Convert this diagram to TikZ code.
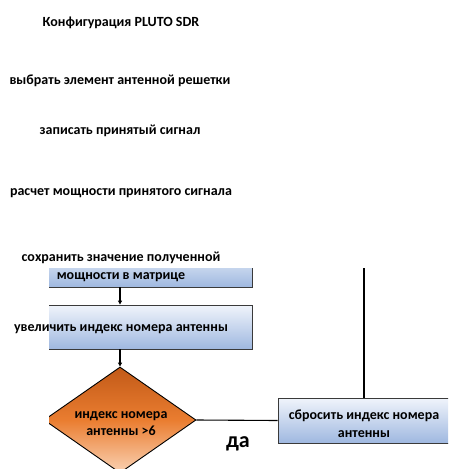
\documentclass[tikz,border=0pt]{standalone}
\usepackage{fontspec}
\setmainfont{Carlito}
\usetikzlibrary{shapes.geometric,arrows.meta}
\definecolor{boxtop}{HTML}{F0F4FB}
\definecolor{boxbot}{HTML}{9FB8E0}
\definecolor{boxline}{HTML}{3A3A3A}
\definecolor{dtop}{HTML}{C25A18}
\definecolor{dmid}{HTML}{EA7D30}
\definecolor{dbot}{HTML}{FAD2B4}
\tikzset{
  x=1pt, y=1pt,
  lbl/.style={font=\fontsize{14}{17.5}\selectfont\bfseries, align=center, inner sep=0pt},
  procbox/.style={draw=boxline, line width=0.9pt, top color=boxtop, bottom color=boxbot, inner sep=0pt, rectangle},
  decbox/.style={draw=black, line width=0.9pt, diamond, aspect=1.43, inner sep=0pt, shading=axis, top color=dtop, bottom color=dbot, middle color=dmid},
  conn/.style={line width=1.1pt, black},
  arr/.style={conn, -{Triangle[length=4pt,width=4pt]}},
}
\begin{document}
\begin{tikzpicture}
\useasboundingbox (0,0) rectangle (448,-469);
\begin{scope}
\clip (49,-268) rectangle (448,-469);
\node[procbox, minimum width=264pt, minimum height=40pt] (b1) at (120,-267) {};
\node[procbox, minimum width=264pt, minimum height=44pt] (b2) at (120,-327) {};
\node[decbox, minimum width=152pt, minimum height=106pt] (d) at (120,-420) {};
\node[procbox, minimum width=172pt, minimum height=45pt] (r) at (364,-420.5) {};
\coordinate (rtop) at (364,-250);
\draw[arr] (b1.south) -- (b2.north);
\draw[arr] (b2.south) -- (d.north);
\draw[conn] (d.east) -- (r.west);
\draw[conn] (r.north) -- (rtop);
\end{scope}
\node[lbl] (t1) at (121,-22.5) {Конфигурация PLUTO SDR};
\node[lbl] (t2) at (120,-80.5) {выбрать элемент антенной решетки};
\node[lbl] (t3) at (120,-130.5) {записать принятый сигнал};
\node[lbl] (t4) at (121,-193.5) {расчет мощности принятого сигнала};
\node[lbl] (t5) at (121,-267) {сохранить значение полученной\\мощности в матрице};
\node[lbl] (t6) at (121,-329.5) {увеличить индекс номера антенны};
\node[lbl] (t7) at (121,-423.5) {индекс номера\\антенны >6};
\node[lbl] (t8) at (364,-423.5) {сбросить индекс номера\\антенны};
\node[font=\fontsize{22}{24}\selectfont\bfseries, inner sep=0pt] (yes) at (238,-444) {да};
\end{tikzpicture}
\end{document}
